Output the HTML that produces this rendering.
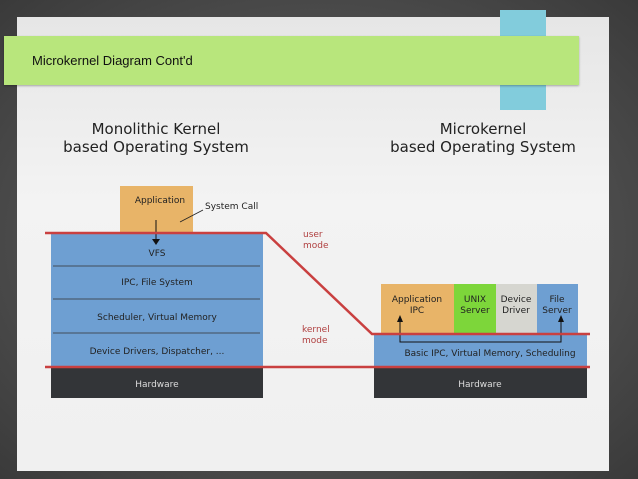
<!DOCTYPE html>
<html><head><style>
body{margin:0;width:638px;height:479px;overflow:hidden;background:#4a4a4a;font-family:"DejaVu Sans","Liberation Sans",sans-serif;}
.abs{position:absolute}
</style></head><body>
<div class="abs" style="left:0;top:0;width:638px;height:479px;background:radial-gradient(ellipse at center,#6a6a6a,#3a3a3a);"></div>
<div class="abs" style="left:17px;top:17px;width:592px;height:454px;background:linear-gradient(#e6e6e6,#f3f3f3 40%,#f0f0f0);"></div>
<div class="abs" style="left:500px;top:10px;width:46px;height:100px;background:#82ccdc;"></div>
<div class="abs" style="left:4px;top:36px;width:575px;height:49px;background:#b8e67c;box-shadow:0 1px 2px rgba(0,0,0,.3);"></div>
<div class="abs" style="left:32px;top:53px;font-family:'Liberation Sans',sans-serif;font-size:13px;color:#111;">Microkernel Diagram Cont'd</div>
<div class="abs" style="left:36px;top:120px;width:240px;text-align:center;font-size:15px;line-height:18px;color:#222;">Monolithic Kernel<br>based Operating System</div>
<div class="abs" style="left:363px;top:120px;width:240px;text-align:center;font-size:15px;line-height:18px;color:#222;">Microkernel<br>based Operating System</div>
<svg class="abs" style="left:0;top:0" width="638" height="479" font-family="DejaVu Sans, Liberation Sans, sans-serif" font-size="9">
<rect x="120" y="186" width="73" height="47" fill="#e8b468"/>
<text x="160" y="203" text-anchor="middle" fill="#222">Application</text>
<text x="205" y="209" fill="#222">System Call</text>
<line x1="180" y1="222" x2="203" y2="210" stroke="#222" stroke-width="0.8"/>
<rect x="51" y="233" width="212" height="134" fill="#6e9fd2"/>
<g stroke="#333" stroke-width="0.8"><line x1="53" y1="266" x2="260" y2="266"/><line x1="53" y1="299" x2="260" y2="299"/><line x1="53" y1="333" x2="260" y2="333"/></g>
<line x1="156" y1="220" x2="156" y2="240" stroke="#111"/><polygon points="152,239 160,239 156,245" fill="#111"/>
<g fill="#222" text-anchor="middle"><text x="157" y="256">VFS</text><text x="157" y="285">IPC, File System</text><text x="157" y="320">Scheduler, Virtual Memory</text><text x="157" y="354">Device Drivers, Dispatcher, ...</text></g>
<rect x="51" y="367" width="212" height="31" fill="#333538"/>
<text x="157" y="387" text-anchor="middle" fill="#ddd">Hardware</text>
<rect x="381" y="284" width="73" height="50" fill="#e8b468"/>
<rect x="454" y="284" width="42" height="50" fill="#7dd63a"/>
<rect x="496" y="284" width="41" height="50" fill="#d6d6d0"/>
<rect x="537" y="284" width="41" height="50" fill="#6e9fd2"/>
<g fill="#222" text-anchor="middle"><text x="417" y="302">Application</text><text x="417" y="313">IPC</text><text x="475" y="302">UNIX</text><text x="475" y="313">Server</text><text x="516" y="302">Device</text><text x="516" y="313">Driver</text><text x="557" y="302">File</text><text x="557" y="313">Server</text></g>
<rect x="374" y="335" width="213" height="32" fill="#6e9fd2"/>
<text x="490" y="356" text-anchor="middle" fill="#222">Basic IPC, Virtual Memory, Scheduling</text>
<polyline points="400,320 400,342 561,342 561,320" fill="none" stroke="#111"/>
<polygon points="397,322 403,322 400,315" fill="#111"/><polygon points="558,322 564,322 561,315" fill="#111"/>
<rect x="374" y="367" width="213" height="31" fill="#333538"/>
<text x="480" y="387" text-anchor="middle" fill="#ddd">Hardware</text>
<polyline points="45,233 266,233 372,334 590,334" fill="none" stroke="#c94040" stroke-width="2.5"/>
<line x1="45" y1="367" x2="590" y2="367" stroke="#c94040" stroke-width="2.5"/>
<g fill="#b04040"><text x="303" y="237">user</text><text x="303" y="248">mode</text><text x="302" y="332">kernel</text><text x="302" y="343">mode</text></g>
</svg>
</body></html>
